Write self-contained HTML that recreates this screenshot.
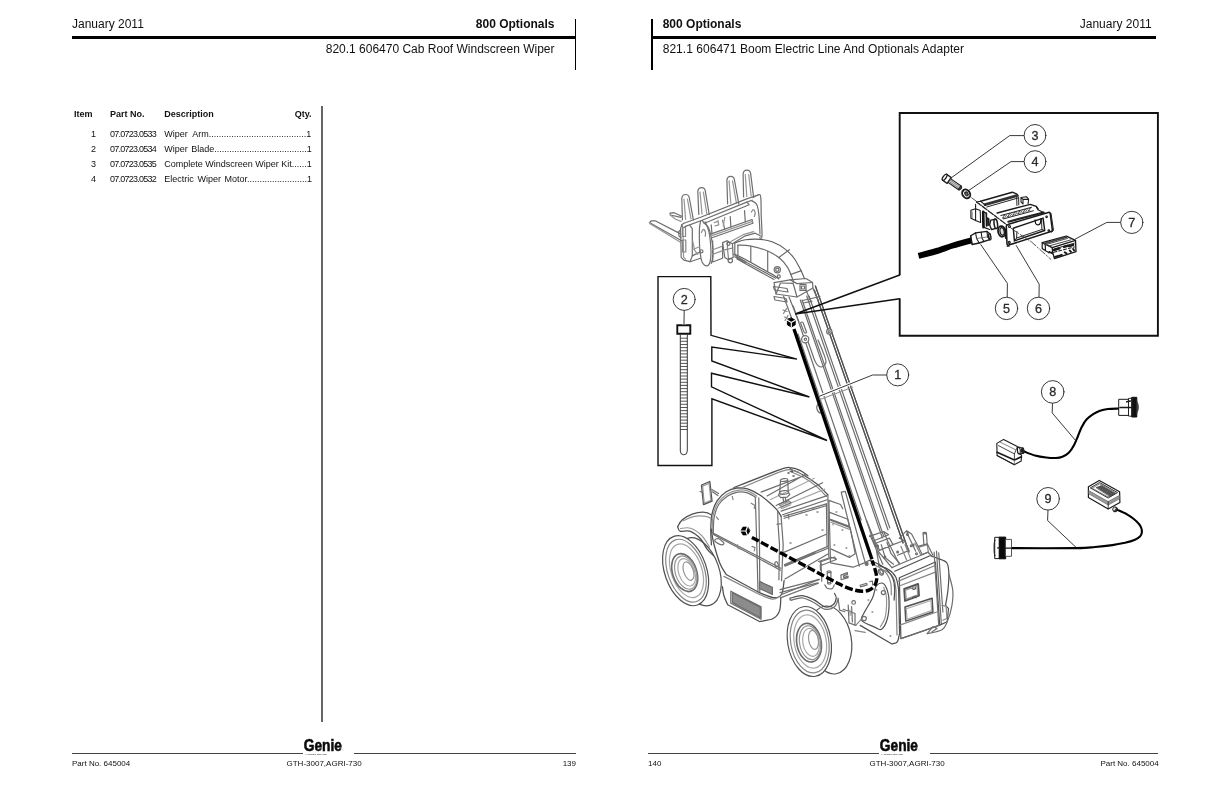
<!DOCTYPE html>
<html lang="en">
<head>
<meta charset="utf-8">
<title>800 Optionals</title>
<style>
html,body{margin:0;padding:0;background:#fff;}
body{width:1224px;height:792px;position:relative;overflow:hidden;font-family:"Liberation Sans",sans-serif;color:#111;}
.t{position:absolute;white-space:nowrap;line-height:1;transform-origin:0 0;}
.r{transform-origin:100% 0;}
.h12{font-size:12px;}
.b{font-weight:bold;}
.f8{font-size:8px;}
.th{font-size:9px;font-weight:bold;}
.td{font-size:9px;}
.pn{letter-spacing:-0.76px;}
.ln{position:absolute;background:#000;}
#wrap{position:absolute;left:0;top:0;width:1224px;height:792px;will-change:transform;transform:translateZ(0);}
#art{position:absolute;left:0;top:0;width:1224px;height:792px;}
</style>
</head>
<body>
<div id="wrap">
<!-- LEFT PAGE HEADER -->
<div class="ln" style="left:72px;top:36px;width:504px;height:3px"></div>
<div class="ln" style="left:574.7px;top:19px;width:1.6px;height:51px"></div>
<div class="t h12" id="jl" style="left:72px;top:18.3px">January 2011</div>
<div class="t h12 b r" id="ol" style="right:669.5px;top:18.2px">800 Optionals</div>
<div class="t h12 r" id="sl" style="right:669.5px;top:43px">820.1 606470 Cab Roof Windscreen Wiper</div>

<!-- TABLE -->
<div class="t th" style="left:74px;top:109.6px">Item</div>
<div class="t th" style="left:110px;top:109.6px">Part No.</div>
<div class="t th" style="left:164.3px;top:109.6px">Description</div>
<div class="t th r" style="right:912.5px;top:109.6px">Qty.</div>

<div class="t td r" style="right:1128px;top:129.6px">1</div>
<div class="t td r" style="right:1128px;top:144.6px">2</div>
<div class="t td r" style="right:1128px;top:159.6px">3</div>
<div class="t td r" style="right:1128px;top:174.6px">4</div>

<div class="t td pn" style="left:110px;top:129.6px">07.0723.0533</div>
<div class="t td pn" style="left:110px;top:144.6px">07.0723.0534</div>
<div class="t td pn" style="left:110px;top:159.6px">07.0723.0535</div>
<div class="t td pn" style="left:110px;top:174.6px">07.0723.0532</div>

<div class="t td" style="left:164.3px;top:129.6px">Wiper&nbsp; Arm.......................................1</div>
<div class="t td" style="left:164.3px;top:144.6px;word-spacing:-0.8px">Wiper&nbsp; Blade.....................................1</div>
<div class="t td" style="left:164.3px;top:159.6px">Complete Windscreen Wiper Kit......1</div>
<div class="t td" style="left:164.3px;top:174.6px;word-spacing:1.1px">Electric Wiper Motor........................1</div>

<div class="ln" style="left:320.9px;top:106.3px;width:2.1px;height:615.5px;background:#666"></div>

<!-- LEFT FOOTER -->
<div class="ln" style="left:72px;top:753px;width:230.5px;height:1px;background:#444"></div>
<div class="ln" style="left:354px;top:753px;width:222px;height:1px;background:#444"></div>
<div class="t f8" style="left:72px;top:759.9px">Part No. 645004</div>
<div class="t f8" style="left:286.5px;top:759.9px">GTH-3007,AGRI-730</div>
<div class="t f8 r" style="right:648px;top:759.9px">139</div>

<!-- RIGHT PAGE HEADER -->
<div class="ln" style="left:651px;top:36px;width:505px;height:3px"></div>
<div class="ln" style="left:650.8px;top:19px;width:2.4px;height:51px"></div>
<div class="t h12 b" style="left:662.7px;top:18.2px">800 Optionals</div>
<div class="t h12" style="left:662.7px;top:43px;letter-spacing:0.035px">821.1 606471 Boom Electric Line And Optionals Adapter</div>
<div class="t h12 r" style="right:72.4px;top:18.3px">January 2011</div>

<!-- RIGHT FOOTER -->
<div class="ln" style="left:648px;top:753px;width:230.5px;height:1px;background:#444"></div>
<div class="ln" style="left:930px;top:753px;width:228px;height:1px;background:#444"></div>
<div class="t f8" style="left:648px;top:759.9px">140</div>
<div class="t f8" style="left:869.5px;top:759.9px">GTH-3007,AGRI-730</div>
<div class="t f8 r" style="right:65.3px;top:759.9px">Part No. 645004</div>

<svg id="art" viewBox="0 0 1224 792" width="1224" height="792" fill="none" stroke="#222" stroke-width="0.8" stroke-linecap="round" stroke-linejoin="round">
<!--ART-->
<g stroke="#6e6e6e" stroke-width="1.2" fill="none">
<ellipse cx="698.9" cy="571.7" rx="20.299999999999997" ry="35.3" transform="rotate(-19 698.9 571.7)" fill="#fff" stroke-width="1.20" stroke="#505050"/>
<ellipse cx="685.6" cy="570.7" rx="20.9" ry="36.3" transform="rotate(-19 685.6 570.7)" fill="#fff" stroke-width="1.20" stroke="#505050"/>
<ellipse cx="686.0" cy="570.7" rx="18.299999999999997" ry="32.599999999999994" transform="rotate(-19 686.0 570.7)" stroke="#858585"/>
<ellipse cx="686.5" cy="570.7" rx="15.299999999999999" ry="27.9" transform="rotate(-19 686.5 570.7)" stroke="#a8a8a8"/>
<ellipse cx="684.7" cy="572.6" rx="12.0" ry="19.6" transform="rotate(-19 684.7 572.6)" stroke-width="1.65" stroke="#6a6a6a"/>
<ellipse cx="685.7" cy="572.6" rx="10.2" ry="17.200000000000003" transform="rotate(-19 685.7 572.6)" stroke="#959595"/>
<ellipse cx="686.7" cy="572.3000000000001" rx="8.0" ry="14.200000000000001" transform="rotate(-19 686.7 572.3000000000001)" stroke="#a8a8a8"/>
<ellipse cx="688.5" cy="571.1" rx="4.8" ry="9.6" transform="rotate(-19 688.5 571.1)" stroke="#959595"/>
<ellipse cx="830.3" cy="640.0" rx="21.0" ry="34.3" transform="rotate(-10 830.3 640.0)" fill="#fff" stroke-width="1.20" stroke="#505050"/>
<ellipse cx="809.3" cy="641.5" rx="21.6" ry="35.3" transform="rotate(-10 809.3 641.5)" fill="#fff" stroke-width="1.20" stroke="#505050"/>
<ellipse cx="809.6999999999999" cy="641.5" rx="19.0" ry="31.599999999999998" transform="rotate(-10 809.6999999999999 641.5)" stroke="#858585"/>
<ellipse cx="810.1999999999999" cy="641.5" rx="16.0" ry="26.9" transform="rotate(-10 810.1999999999999 641.5)" stroke="#a8a8a8"/>
<ellipse cx="809.0" cy="642.7" rx="12.2" ry="19.5" transform="rotate(-10 809.0 642.7)" stroke-width="1.65" stroke="#6a6a6a"/>
<ellipse cx="810.0" cy="642.7" rx="10.399999999999999" ry="17.1" transform="rotate(-10 810.0 642.7)" stroke="#959595"/>
<ellipse cx="811.0" cy="642.4000000000001" rx="8.2" ry="14.1" transform="rotate(-10 811.0 642.4000000000001)" stroke="#a8a8a8"/>
<ellipse cx="813.5" cy="639.9" rx="4.8" ry="9.6" transform="rotate(-10 813.5 639.9)" stroke="#959595"/>
<path d="M798.0,334 L861.2,520 M793.2,306 L875.8,548 M800.3,300 L882.4,538 M802.1,300 L883.6,536 M806.7,296 L888.0,530 M809.0,296 L889.8,528 M814.3,290 L903.1,543 M815.4,286 L909.0,552 " />
<path d="M815.4,286 L909.0,552 M814.3,290 L903.1,543" stroke-width="1.20" stroke="#505050"/>
<path d="M806.5,337.0 C807.2,339.2 809.4,345.7 811.0,350.0 C812.6,354.3 814.2,360.2 816.0,363.0 C817.8,365.8 819.8,367.2 821.5,367.0 C823.2,366.8 825.8,364.5 826.0,362.0 C826.2,359.5 824.3,355.7 823.0,352.0 C821.7,348.3 818.8,342.0 818.0,340.0" />
<circle cx="805.2" cy="339.3" r="3.6" fill="#fff"/>
<circle cx="805.4" cy="339.3" r="1.2" />
<circle cx="829.3" cy="331.5" r="2.6" fill="#fff"/>
<circle cx="829.3" cy="331.5" r="1.0" />
<path d="M800.5,323 l3.5,9 q1.2,2.2 2.6,0.3 l-3.4,-9.3 q-1.4,-2 -2.7,0 Z" />
<path d="M820,399.5 L852.5,387.2" stroke="#959595"/>
<path d="M819,404 q-3,1 -2,5 q1,4 4,4" />
<path d="M734.8,242.9 C736.6,242.4 741.2,240.4 745.5,239.8 C749.8,239.2 756.1,239.0 760.6,239.4 C765.1,239.8 768.7,240.5 772.7,242.1 C776.7,243.7 781.3,246.2 784.8,248.9 C788.3,251.6 791.4,254.7 793.9,258.0 C796.4,261.3 798.2,265.2 800.0,268.6 C801.8,272.0 803.8,276.9 804.5,278.5" stroke-width="1.12" stroke="#5c5c5c"/>
<path d="M737.9,245.2 C739.9,245.3 745.0,244.9 750.0,245.9 C755.0,246.9 763.2,249.0 768.2,251.2 C773.2,253.3 777.0,256.0 780.3,258.8 C783.6,261.6 785.9,264.6 787.9,267.9 C789.9,271.2 791.4,276.1 792.4,278.5 C793.4,280.9 793.6,281.7 793.9,282.3" />
<path d="M734.8,254.2 C736.6,255.1 741.2,257.2 745.5,259.5 C749.8,261.8 755.8,265.2 760.6,267.9 C765.4,270.6 771.2,273.6 774.2,275.5 C777.2,277.4 778.0,278.4 778.8,279.0" stroke-width="1.12" stroke="#5c5c5c"/>
<path d="M734.8,242.9 V254.2 M737.9,245.2 V255.6" />
<path d="M750.8,246.5 V262.4 M767.7,251.4 V271.2 M778.8,257.5 L789.4,249.7 M790.9,274.4 L801.5,270.6" />
<path d="M736.4,257 L775.8,278.2 M737,259 L774,279.5" />
<circle cx="777.3" cy="269.7" r="3.1" />
<circle cx="777.3" cy="269.7" r="1.6" />
<circle cx="778.8" cy="276.4" r="1.5" />
<path d="M774,282.6 L790,279.8 L806,278.5 L812.5,282.5 L813,288 L797,297 L776,294 Z" />
<path d="M776,294 L780.5,283 M797,297 L793,283 M790,279.8 L797,283.6 L812.5,282.5 M781,283 L793,283.3" />
<path d="M773.5,286.5 L787,288.5 L788,292 L774.5,290 Z M774,296.5 L786,298.5 L787,302 L775,300 Z" />
<path d="M800,284.5 h6 v6 h-6 Z M801.5,286 h3 v3 h-3 Z" />
<path d="M806,290 L811,302 M812.8,288 L818,300 M802.5,300.5 L820,296.5 M803.5,303 L812,301.2" />
<path d="M783.5,296 L793,322 M789,297 L799,322" />
<path d="M783,310 l4,1.5 m-3.5,2 l3,-5 M784.5,317 l4,1.5 m-3.5,2 l3,-5" stroke="#858585"/>
<path d="M682.4,219.8 L681.8,198.5 Q682.1,194.5 685.6,194.5 Q689.1,194.5 689.4,198.5 L693.4,219.8" />
<path d="M684.0,199.0 L685.6,219.3 M687.4,199.0 L691.0,218.8" stroke="#959595"/>
<path d="M698.8,214.5 L697.8,191.6 Q698.1,187.6 701.6,187.6 Q705.1,187.6 705.4,191.6 L709.2,214.5" />
<path d="M700.0,192.1 L702.0,214.0 M703.4,192.1 L706.8,213.5" stroke="#959595"/>
<path d="M727.6,203.8 L726.9,180.4 Q727.2,176.4 730.7,176.4 Q734.2,176.4 734.5,180.4 L738.8,203.8" />
<path d="M729.1,180.9 L730.8,203.3 M732.5,180.9 L736.4,202.8" stroke="#959595"/>
<path d="M743.6,197.0 L743.1,174.2 Q743.4,170.2 746.9,170.2 Q750.4,170.2 750.7,174.2 L753.6,197.0" />
<path d="M745.3,174.7 L746.8,196.5 M748.7,174.7 L751.2,196.0" stroke="#959595"/>
<path d="M683.9,223.3 L700.6,217.3 L746.1,199.1 L759.7,194.5" />
<path d="M685.5,226.4 L702.1,220.3 L746.8,202.1 L752.1,200.2" />
<path d="M702.1,220.3 L704.4,223.3 L749.1,204.7 L746.8,202.1" />
<path d="M683.9,223.3 L681.7,224.8 L682.9,227.9 L685.5,226.4" />
<path d="M681.7,224.8 L680.6,228.6 L681.2,257.4 L683.9,260.2 L690.0,261.7 L692.3,255.9 L692.3,228.6 L690.0,225.6" />
<path d="M682.9,227.9 L683.6,257.1 L685.5,259.2" stroke="#959595"/>
<path d="M680.2,230.2 L678.6,231.7 L679.1,236.2 L680.9,237.4" />
<path d="M682.5,227.5 h3 v9 h-3 Z M682.6,240 h3.2 v12 h-3.2 Z" stroke="#858585"/>
<path d="M700.6,221.1 C700.4,222.6 699.5,225.4 699.4,230.2 C699.3,234.9 699.4,244.5 699.8,249.8 C700.3,255.2 701.0,259.3 702.1,262.0 C703.3,264.6 705.4,265.8 706.7,265.8 C708.0,265.8 709.3,264.6 710.0,262.0 C710.7,259.3 711.1,254.9 710.9,249.8 C710.7,244.8 709.9,236.3 708.9,231.7 C708.0,227.0 705.8,223.5 705.2,221.8" />
<path d="M703.6,222.6 C704.5,223.6 707.5,225.1 708.9,228.6 C710.4,232.2 711.7,239.2 712.4,243.8 C713.1,248.3 713.2,252.6 713.0,255.9 C712.8,259.2 711.5,262.2 711.2,263.5" />
<path d="M701.4,232.4 C701.7,231.9 702.7,229.4 703.3,229.4 C704.0,229.4 705.2,231.3 705.5,232.4 C705.8,233.6 705.2,235.6 705.2,236.2" stroke="#858585"/>
<circle cx="701.3636363636364" cy="251.36363636363637" r="1.6" />
<path d="M752.9,197.6 C754.0,197.1 758.4,194.2 759.7,194.5 C761.0,194.9 760.7,196.4 760.9,199.8 C761.2,203.3 761.0,208.9 761.2,215.0 C761.4,221.1 762.2,232.4 762.0,236.2 C761.7,240.0 760.1,237.5 759.7,237.7" />
<path d="M751.4,200.6 C752.2,201.2 755.4,202.0 756.7,204.4 C757.9,206.8 758.4,210.1 758.9,215.0 C759.5,219.9 759.8,230.8 760.0,233.9" />
<path d="M751.4,212.0 C751.7,211.6 752.7,209.6 753.3,209.7 C754.0,209.8 755.0,211.6 755.2,212.7 C755.3,213.9 754.5,215.9 754.4,216.5" stroke="#858585"/>
<path d="M711.2,233.9 L752.1,219.5 L752.9,223.3 L712.0,237.7" />
<path d="M711.2,235.9 L752.4,221.4" stroke="#959595"/>
<path d="M711.2,224.8 L712.0,233.9M722.6,220.3 L724.8,229.4M730.2,216.5 L730.9,227.1M744.5,210.5 L745.3,221.8" />
<path d="M724.8,217.3 L723.3,225.6M718.0,220.3 L718.8,224.8M714.2,222.6 L718.0,221.4 L718.8,224.8 L715.0,225.9" stroke="#959595"/>
<path d="M712.7,240.8 L712.7,262.0 L722.6,258.2 L722.6,243.8" />
<path d="M712.7,249.8 L722.6,246.1M712.7,254.4 L722.6,250.6" stroke="#959595"/>
<path d="M692.3,255.9 L699.8,252.1M690.0,261.7 L700.6,258.2" />
<path d="M692.3,249.8 L699.4,246.8M692.7,240.8 L694.5,249.8 L697.6,254.4" stroke="#959595"/>
<path d="M681.7,240.8 L649.4,222.6 L651.4,220.8 L655.2,220.8 L680.6,233.9" />
<path d="M649.4,222.6 L650.0,223.8 L680.9,242.6" stroke="#959595"/>
<path d="M680.9,217.3 L670.3,215.0 L670.0,213.2 L674.1,212.7 L681.7,216.2" />
<path d="M670.3,215.0 L675.6,219.2 L681.2,221.4" stroke="#959595"/>
<path d="M722.6,242.6 L727.1,240.8 L732.4,243.8 L733.2,257.4 L728.6,259.7 L724.8,257.4 L723.0,245.3 Z" />
<path d="M727.1,240.8 L727.6,249.8 L728.6,259.7M724.8,249.8 L732.7,248.0" stroke="#858585"/>
<circle cx="730.3030303030303" cy="260.45454545454544" r="2.2" />
<circle cx="728.4848484848485" cy="243.7878787878788" r="1.5" />
<path d="M732.4,243.8 L744.5,236.2 L755.2,233.2 L761.2,236.2" />
<path d="M730.9,241.5 L743.0,234.7 L753.6,231.7" stroke="#959595"/>
<path d="M733.9,254.4 L740.0,258.2 L746.1,262.0M734.7,256.7 L744.5,262.7" />
<path d="M701.5,485.0 L709.8,481.5 L712.0,501.2 L703.5,504.5 Z" stroke-linejoin="round" stroke-width="1.35" stroke="#505050"/>
<path d="M702.6,486.1 L709.1,483.2 L710.9,500.3 L704.2,503.2 Z" stroke="#959595"/>
<path d="M711.8,489.5 L718.6,493.6M712.3,491.8 L717.9,495.6M700.2,491.5 L702.0,492.1" />
<path d="M711.4,544.8 C711.3,542.1 710.6,533.5 710.8,528.2 C710.9,522.9 711.2,517.6 712.3,513.0 C713.3,508.5 714.8,504.4 717.1,500.9 C719.4,497.4 722.9,494.0 726.2,491.8 C729.5,489.7 733.3,488.5 736.8,488.0 C740.4,487.5 743.6,487.7 747.4,488.8 C751.2,489.9 755.8,492.4 759.5,494.8 C763.3,497.2 767.1,500.5 770.2,503.2 C773.2,505.8 775.9,508.6 777.7,510.8 C779.5,513.0 780.5,515.4 781.1,516.4" stroke-width="1.27" stroke="#505050"/>
<path d="M713.3,532.7 C713.5,530.2 713.2,522.2 714.1,517.6 C715.0,512.9 716.4,508.3 718.6,504.7 C720.9,501.1 724.6,498.2 727.7,496.1 C730.9,494.0 734.3,492.7 737.6,492.1 C740.9,491.6 744.4,492.0 747.4,492.9 C750.5,493.8 754.4,496.7 755.8,497.4" />
<path d="M712.3,531.2 C712.4,528.7 712.1,520.7 713.0,516.1 C713.9,511.4 715.4,506.8 717.7,503.2 C720.1,499.5 723.7,496.4 727.0,494.2 C730.2,492.1 733.9,490.9 737.3,490.3 C740.7,489.7 744.2,489.9 747.4,490.9 C750.7,491.9 755.3,495.2 756.8,496.1" stroke="#959595"/>
<path d="M733.8,487.6 C741.6,484.5 771.2,472.7 780.8,469.4 C790.4,466.1 788.1,467.7 791.4,467.9 C794.6,468.1 797.7,469.3 800.5,470.6 C803.2,471.9 806.8,475.0 808.0,475.9 M790.0,469.1 C792.3,470.1 799.1,472.6 803.6,475.2 C808.2,477.7 813.2,481.0 817.3,484.2 C821.3,487.5 826.1,493.1 827.9,494.8" stroke-width="1.27" stroke="#505050"/>
<path d="M739.8,488.5 C746.8,485.6 772.9,474.4 781.5,471.4 C790.1,468.3 788.5,469.8 791.4,470.0 C794.3,470.2 797.7,472.0 798.9,472.4 M790.0,471.4 C792.1,472.3 798.5,474.7 802.9,477.1 C807.2,479.6 812.1,482.9 816.1,486.1 C820.0,489.3 824.6,494.6 826.4,496.4" stroke="#858585"/>
<path d="M761.1,492.1 L806.5,474.7M767.1,495.9 L805.2,474.4M776.2,505.5 L822.6,482.7M781.1,511.1 L827.1,495.6M782.6,514.8 L827.1,499.7" />
<path d="M770.2,499.7 L814.2,478.2M778.0,508.2 L824.8,489.1" stroke="#a8a8a8"/>
<path d="M788,473 l1,0 M791.5,471.5 l1,0 M793,476 l1,0" stroke-width="1.50" stroke="#505050"/>
<path d="M780.5,480.5 L779.7,492.6 L778.5,495.2 L780.8,497.6 L787.1,497.1 L789.8,494.5 L788.3,492.1 L787.7,480.0" />
<ellipse cx="784.0909090909091" cy="480.0" rx="3.7" ry="1.4" transform="rotate(-8 784.0909090909091 480.0)" />
<ellipse cx="784.0909090909091" cy="492.42424242424244" rx="4.5" ry="1.8" transform="rotate(-8 784.0909090909091 492.42424242424244)" />
<path d="M783.0,497.9 L783.8,503.2M785.3,497.6 L786.2,502.9M778.9,504.2 L788.3,500.6 L791.1,502.7 L781.7,506.7 Z" />
<path d="M780.5,505.2 L789.1,501.7M780.0,507.3 L782.0,508.5 L790.6,504.8" stroke="#959595"/>
<path d="M781.1,516.4 L783.2,544.8 L781.5,580.6M778.0,523.6 L779.5,544.8 L778.9,579.8" />
<path d="M777.7,510.8 L778.0,523.6" />
<path d="M777.0,524.4 L781.5,523.6M788.3,514.5 L788.9,518.8" stroke="#858585"/>
<path d="M755.3,497.3 L756.8,544.8 L758.0,591.2M758.8,497.9 L759.5,544.8 L759.8,592.0" />
<path d="M712.6,532.7 L755.0,554.7 L780.8,568.3M713.3,534.5 L755.0,556.5 L780.5,570.2" />
<path d="M714.8,540.0 C715.2,539.4 717.1,538.3 718.6,538.8 C720.2,539.3 723.4,542.0 723.9,543.0 C724.4,544.0 722.9,544.9 721.7,544.8 C720.4,544.8 717.5,543.4 716.4,542.6 C715.2,541.8 714.5,540.6 714.8,540.0 Z" stroke="#6a6a6a"/>
<path d="M732.3,496.4 L733.0,499.7M751.2,503.2 L755.0,505.5 L754.2,508.5M716.4,516.8 L718.3,519.4M737.6,544.8 L738.3,548.6 L740.6,548.6M752.0,546.4 L755.0,547.6 L754.2,550.9" stroke="#858585"/>
<ellipse cx="776.5151515151515" cy="564.2424242424242" rx="1.6" ry="2.6" transform="rotate(-15 776.5151515151515 564.2424242424242)" />
<path d="M677.7,526.7 C678.5,525.5 679.7,522.0 682.3,519.8 C684.8,517.7 689.1,515.1 692.9,513.8 C696.7,512.5 701.9,512.1 705.0,512.3 C708.1,512.4 710.3,514.4 711.4,514.8" stroke-width="1.27" stroke="#505050"/>
<path d="M677.7,526.7 C678.1,527.4 678.0,530.5 680.0,531.2 C682.0,532.0 686.4,529.9 689.8,531.2 C693.3,532.5 697.6,535.8 700.5,538.8 C703.4,541.8 705.1,546.6 707.3,549.4 C709.4,552.2 712.3,554.4 713.3,555.5" stroke-width="1.27" stroke="#505050"/>
<path d="M683.0,520.9 C684.9,520.2 690.6,517.1 694.4,516.4 C698.2,515.6 703.0,516.0 705.8,516.4 C708.5,516.7 710.2,518.0 711.1,518.3" stroke="#959595"/>
<path d="M680.5,528.5 C682.1,528.4 687.0,527.0 690.6,528.2 C694.2,529.4 698.8,532.6 702.0,535.8 C705.1,538.9 708.3,545.2 709.5,547.1" stroke="#959595"/>
<path d="M783.8,516.4 L826.4,503.9M784.1,518.3 L826.8,505.5M783.8,552.4 L826.4,534.2M784.5,564.5 L827.9,546.4M785.0,566.1 L827.9,548.2" />
<path d="M827.9,495.6 L828.8,557.0M826.4,503.9 L827.0,546.4" />
<path d="M801,512 l1,0 M806,515 l1,0 M813,508 l1,0 M817,512 l1,0 M822,530 l1,0 M790,543 l1,0" stroke-width="1.50" stroke="#858585"/>
<path d="M711.4,529.1 C711.6,530.6 711.9,534.6 712.6,538.2 C713.3,541.7 714.3,546.0 715.6,550.3 C716.9,554.6 718.4,559.9 720.2,563.9 C721.9,568.0 725.2,572.8 726.2,574.5 M726.2,574.5 L759.5,592.7 M759.5,592.7 C761.8,593.5 769.5,597.3 773.2,597.6 C776.8,597.9 779.7,597.4 781.5,594.5 C783.3,591.7 783.7,582.9 784.1,580.6" stroke-width="1.27" stroke="#505050"/>
<path d="M723.9,576.4 L759.5,594.5 M759.5,594.5 C761.7,595.3 769.0,598.8 772.4,599.1 C775.8,599.4 778.7,596.9 780.0,596.5" stroke="#858585"/>
<path d="M722.4,586.7 C722.7,588.2 723.1,592.7 723.9,595.8 C724.8,598.8 727.1,603.3 727.7,604.8 M727.7,604.8 L759.5,621.5 M759.5,621.5 C761.8,621.0 769.8,620.3 773.2,618.5 C776.5,616.7 778.3,614.4 779.5,610.9 C780.8,607.4 780.6,599.8 780.8,597.6" stroke-width="1.27" stroke="#505050"/>
<path d="M732.3,592.7 L760.3,607.1 L760.3,617.7 L732.3,602.6 Z" fill="#8c8c8c" stroke="#6a6a6a"/>
<path d="M730.8,591.2 L761.1,606.7 L761.1,619.2 L730.8,603.3 Z" />
<path d="M759.5,581.4 L772.4,587.4 L772.4,594.5 L759.5,588.5 Z" fill="#8c8c8c" stroke="#6a6a6a"/>
<path d="M784.5,565.5 L815.0,552.6M785.0,579.1 L827.9,553.9M782.3,594.2 L819.2,579.4M781.1,597.6 L818.4,583.2" />
<path d="M878.7,565.6 C880.3,566.3 885.3,567.4 888.1,569.3 C890.9,571.1 893.9,573.4 895.6,576.7 C897.4,579.9 898.1,586.9 898.6,589.0 M898.6,589.0 L899.6,633.3 M899.6,633.3 C899.2,634.7 898.6,640.1 897.3,641.8 C896.0,643.6 892.8,643.6 891.9,644.0 M891.9,644.0 L860.2,625.4" stroke-width="1.27" stroke="#505050"/>
<path d="M881.2,569.3 C882.6,569.9 887.2,571.1 889.4,572.9 C891.6,574.7 893.2,577.0 894.3,579.9 C895.4,582.9 895.7,588.8 896.0,590.6 M896.0,590.6 L897.0,634.9" stroke="#858585"/>
<path d="M882.8,583.2 C884.7,584.0 886.4,587.5 887.4,590.6 C888.5,593.8 889.1,597.4 889.1,602.1 C889.1,606.8 888.7,614.0 887.4,618.5 C886.2,623.0 883.7,627.8 881.5,629.2 C879.4,630.6 877.9,628.5 874.6,627.1 C871.3,625.6 863.5,623.0 861.8,620.5 C860.1,618.0 862.6,616.1 864.4,612.3 C866.3,608.5 870.7,601.9 872.7,597.5 C874.6,593.1 874.6,588.4 876.3,586.0 C878.0,583.6 881.0,582.5 882.8,583.2 Z" stroke-width="1.20" stroke="#505050"/>
<path d="M883.7,587.3 C884.1,589.0 886.2,592.2 886.5,597.2 C886.7,602.1 886.3,612.0 885.3,616.9 C884.3,621.8 881.2,625.1 880.4,626.7" stroke="#959595"/>
<circle cx="883.3333333333334" cy="592.5779967159277" r="2.0" />
<circle cx="864.1215106732349" cy="618.5221674876848" r="2.2" />
<path d="M868,600 l0.8,0 M872,612 l0.8,0 M890,636 l0.8,0 M876,590 l0.8,0" stroke-width="1.35" stroke="#858585"/>
<path d="M894.7,571.2 L930.5,555.5 L938.7,558.8M899.3,577.8 L935.4,562.0 L939.7,625.1 L900.9,638.6 Z" stroke-width="1.20" stroke="#505050"/>
<path d="M898.6,581.1 L935.7,565.3M899.3,586.0 L936.0,571.9M899.9,625.1 L936.7,612.0" stroke="#858585"/>
<path d="M904.2,589.0 L918.1,584.0 L919.0,595.5 L905.0,600.8 Z" stroke-width="1.95" stroke="#555"/>
<path d="M905.5,590.3 L917.0,586.0 L917.7,594.7 L906.2,599.1 Z" stroke="#959595"/>
<path d="M912.2,588.5 a1.6,1 0 1 0 3.2,-0.8 M912.8,598.5 a1.6,1 0 1 1 3.2,-0.8" stroke="#555" stroke-width="1.35"/>
<path d="M905.0,607.0 L932.1,598.2 L932.9,612.0 L905.8,621.1 Z" stroke-width="1.50" stroke="#505050"/>
<path d="M906.3,608.7 L931.0,600.5 L931.6,610.6 L907.0,619.2 Z" stroke="#a8a8a8"/>
<path d="M934.1,552.2 L938.7,625.1M936.5,551.2 L941.3,623.8M938.7,552.8 L942.9,612.0" />
<path d="M938.7,558.8 C940.0,559.5 945.2,560.4 946.9,563.0 C948.6,565.6 948.7,569.6 948.9,574.2 C949.0,578.8 948.4,585.4 947.9,590.6 C947.3,595.8 945.9,602.9 945.6,605.4 M945.6,605.4 L948.5,608.7 L947.2,621.8 L939.7,625.1" stroke-width="1.20" stroke="#505050"/>
<path d="M948.9,574.2 C949.5,576.9 952.3,585.3 952.8,590.6 C953.3,595.9 952.7,601.0 951.8,606.2 C950.9,611.4 948.9,617.9 947.2,621.8 C945.6,625.7 945.3,627.7 942.0,629.7 C938.6,631.7 929.6,633.0 927.2,633.6" />
<path d="M927.2,633.6 L932.9,626.7 L937.0,628.4 L932.1,631.7M900.9,638.6 L925.5,630.3 L939.7,625.1" />
<path d="M942.0,605.4 L946.1,606.2 L946.9,618.5 L942.8,620.2" stroke="#858585"/>
<path d="M923.1,533.5 L923.9,544.6M926.4,533.1 L927.2,545.0" />
<ellipse cx="924.7126436781609" cy="533.1362889983579" rx="1.7" ry="0.7" transform="rotate(0 924.7126436781609 533.1362889983579)" />
<path d="M866.4,520.0 L874.6,540.5 L879.2,565.6M870.0,535.1 L882.8,564.3" />
<path d="M869.4,536.4 L883.7,531.5 L888.6,534.8 L874.6,540.5M874.6,540.5 L878.7,552.0 L891.9,567.6M883.7,531.5 L887.8,541.3 L899.3,564.3" />
<path d="M876.3,543.0 L889.4,538.1 L893.0,544.6 L879.6,550.4 ZM881.2,544.6 L885.3,557.8 L893.5,564.3M886.9,542.2 L891.1,553.7 L899.3,563.0" />
<path d="M899.3,564.3 L927.2,552.8M891.9,567.6 L899.3,564.3M893.0,544.6 L904.2,540.5 L909.1,550.4 L897.6,555.3" />
<path d="M899.3,538.1 L906.7,530.7 L911.6,534.0 L918.1,546.3 L922.2,554.5M904.2,540.5 L899.3,538.1M906.7,530.7 L907.8,534.8 L915.7,551.2" />
<path d="M900.9,546.3 L906.7,560.2M905.0,544.6 L910.8,559.1M914.9,543.0 L920.9,555.3M919.0,547.1 L927.2,544.6 L928.5,552.8" stroke="#858585"/>
<path d="M922.2,554.5 L928.0,552.0 L932.1,556.9M918.1,546.3 L927.2,543.8 L932.9,555.3" />
<circle cx="877.5862068965517" cy="545.944170771757" r="0.9" stroke="#6a6a6a"/>
<circle cx="884.8111658456486" cy="556.9458128078818" r="0.9" stroke="#6a6a6a"/>
<circle cx="897.6190476190476" cy="552.0197044334975" r="0.9" stroke="#6a6a6a"/>
<circle cx="907.471264367816" cy="534.4499178981938" r="0.9" stroke="#6a6a6a"/>
<circle cx="911.247947454844" cy="545.7799671592775" r="0.9" stroke="#6a6a6a"/>
<circle cx="913.2183908045977" cy="544.9589490968801" r="0.9" stroke="#6a6a6a"/>
<circle cx="916.5024630541872" cy="553.6617405582923" r="0.9" stroke="#6a6a6a"/>
<path d="M828.9,500.4 L830.5,562.0M828.9,500.4 L840.5,504.5 L842.8,508.8M829.7,512.4 L847.8,519.3 L849.4,526.2 L830.5,519.3M830.5,520.2 L850.2,527.8 L855.2,553.7 L849.4,557.4 L831.3,549.1" />
<path d="M831.0,522.2 L849.4,529.4M833.0,522.9 L833.0,525.0" stroke="#959595"/>
<path d="M841.2,492.2 L859.3,566.1M845.3,491.3 L865.0,562.0M841.2,492.2 L845.3,491.3" />
<path d="M836,512 l0.8,0 M842,530 l0.8,0 M846,548 l0.8,0 M834,545 l0.8,0 M849,556 l0.8,0" stroke-width="1.35" stroke="#858585"/>
<path d="M819.9,562.0 L834.6,557.0 L836.3,559.5 L821.5,565.2 ZM820.2,565.2 L820.5,570.2M830.5,562.9 L853.0,567.2 L864.5,562.9 L869.4,560.3" />
<path d="M869.4,560.3 C871.0,561.0 876.0,562.8 879.0,564.4 C881.9,566.1 884.8,567.8 887.2,570.2 C889.5,572.5 891.7,575.4 892.9,578.4 C894.2,581.4 894.4,584.6 894.6,588.2 C894.8,591.8 894.2,598.1 894.1,600.0" stroke-width="1.27" stroke="#505050"/>
<path d="M871.1,563.6 C872.5,564.3 877.1,565.9 879.8,567.7 C882.5,569.5 885.3,571.7 887.2,574.3 C889.0,576.9 890.1,579.9 890.8,583.3 C891.5,586.7 891.2,592.9 891.3,594.8" stroke="#858585"/>
<circle cx="866.6502463054187" cy="563.9244663382594" r="1.5" />
<circle cx="866.6502463054187" cy="563.9244663382594" r="0.7" />
<ellipse cx="880.935960591133" cy="572.1346469622332" rx="2.2" ry="3.2" transform="rotate(-30 880.935960591133 572.1346469622332)" />
<ellipse cx="881.5927750410509" cy="571.8062397372743" rx="1.4" ry="2.4" transform="rotate(-30 881.5927750410509 571.8062397372743)" />
<ellipse cx="829.047619047619" cy="571.8062397372743" rx="1.9" ry="0.9" transform="rotate(0 829.047619047619 571.8062397372743)" />
<path d="M827.2,572.1 L827.7,583.3M831.0,572.1 L830.7,583.3" />
<ellipse cx="829.2118226600985" cy="583.3004926108374" rx="1.7" ry="0.8" transform="rotate(0 829.2118226600985 583.3004926108374)" />
<path d="M824.8,584.9 C825.2,585.5 826.0,587.6 827.2,588.2 C828.5,588.8 831.0,589.1 832.2,588.6 C833.3,588.0 833.9,585.5 834.3,584.9" />
<path d="M847.4,572.6 L840.9,575.1 L841.2,579.7 L848.1,577.6 L848.1,576.1 L843.7,577.6 L843.5,575.9 L847.4,574.4 Z" />
<path d="M860.1,585.3 L866.7,583.3 L867.1,584.9 L860.6,586.9 ZM869.9,581.7 L872.4,581.0 L872.7,584.9" />
<path d="M780.0,589.7 L819.2,579.4M780.0,592.7 L817.8,582.8" />
<path d="M818.4,561.5 L820.9,560.7 L821.8,581.1M820.9,560.7 L831.1,557.3 L836.2,559.0" />
<path d="M790.2,598.2 C792.2,597.8 798.2,595.3 802.2,595.6 C806.1,595.9 810.4,598.0 814.1,599.9 C817.8,601.7 821.2,605.8 824.3,606.7 C827.4,607.6 830.8,606.4 832.8,605.0 C834.8,603.6 836.0,600.1 836.2,598.2 C836.5,596.2 834.8,594.2 834.5,593.4" stroke-width="1.27" stroke="#505050"/>
<path d="M790.9,600.2 C792.8,599.8 798.4,597.5 802.2,597.8 C805.9,598.2 809.7,600.4 813.4,602.3 C817.2,604.1 821.2,608.3 824.7,609.1 C828.1,609.9 831.9,608.7 834.2,607.0 C836.5,605.4 837.6,600.4 838.3,599.0" />
<path d="M790.2,598.2 C790.2,598.4 789.8,599.2 789.9,599.5 C790.0,599.9 790.7,600.1 790.9,600.2" />
<path d="M838.0,598.2 L839.7,610.1 L844.8,611.8M848.2,605.0 L849.0,622.9M851.6,606.7 L852.4,622.0M843.1,609.3 L855.0,613.5 L855.0,625.4M849.0,622.9 L855.8,625.4" />
<circle cx="853.6321799897732" cy="602.4390659621613" r="1.8" />
<path d="M849.9,610.1 L850.2,615.2" stroke="#959595"/>
<path d="M855.8,625.4 L861.8,618.6M855.0,630.6 L865.2,632.3" stroke="#858585"/>
</g>
<path d="M899.7,275 L899.7,113 L1157.9,113 L1157.9,335.8 L899.7,335.8 L899.7,298.8" stroke="#111" stroke-width="1.9" stroke-linejoin="miter" stroke-linecap="butt"/>
<path d="M899.7,275 L795.2,314 L899.7,298.8" stroke="#111" stroke-width="1.5" stroke-linejoin="miter"/>
<path d="M711.0,335.3 L710.8,276.6 L658,276.6 L658,465.5 L711.9,465.5 L711.9,398.8 L827,440.5 L711.5,386.8 L711.5,373.2 L809.4,397 L711.8,361 L711.8,347 L797,359.1 Z" stroke="#111" stroke-width="1.4" stroke-linejoin="miter"/>
<g stroke="#222">
<path d="M677.3,325.3 H690.3 V333.7 H677.3 Z" stroke-width="1.9" stroke-linejoin="miter" stroke="#111"/>
<path d="M680.3,335 V451 A3.5,3.8 0 0 0 687.3,451 V335" stroke-width="0.9"/>
<path d="M680.5,338.2 H687.2 M680.5,341.3 H687.2 M680.5,344.5 H687.2 M680.5,347.6 H687.2 M680.5,350.8 H687.2 M680.5,353.9 H687.2 M680.5,357.1 H687.2 M680.5,360.2 H687.2 M680.5,363.4 H687.2 M680.5,366.5 H687.2 M680.5,369.7 H687.2 M680.5,372.8 H687.2 M680.5,376.0 H687.2 M680.5,379.1 H687.2 M680.5,382.3 H687.2 M680.5,385.4 H687.2 M680.5,388.6 H687.2 M680.5,391.7 H687.2 M680.5,394.9 H687.2 M680.5,398.0 H687.2 M680.5,401.2 H687.2 M680.5,404.3 H687.2 M680.5,407.5 H687.2 M680.5,410.6 H687.2 M680.5,413.8 H687.2 M680.5,416.9 H687.2 M680.5,420.1 H687.2 M680.5,423.2 H687.2 M680.5,426.4 H687.2 M680.5,429.5 H687.2 " stroke-width="0.9" stroke="#444"/>
</g>
<path d="M794,329 L871.9,559.3" stroke="#000" stroke-width="3.4" stroke-linecap="butt"/>
<path d="M751.9,537.4 C756.4,539.8 771.1,547.7 778.7,551.8 C786.3,555.9 791.3,558.5 797.6,561.9 C803.9,565.3 810.2,568.6 816.5,572.0 C822.8,575.4 830.7,579.6 835.4,582.0 C840.1,584.4 841.4,585.3 844.5,586.6 C847.6,587.9 851.2,589.2 854.2,590.0 C857.2,590.8 859.9,591.1 862.2,591.2 C864.5,591.3 866.3,591.0 868.0,590.5 C869.7,590.0 871.0,589.4 872.2,588.3 C873.5,587.2 874.8,585.5 875.5,584.0 C876.2,582.5 876.6,580.9 876.7,579.2 C876.8,577.5 876.5,575.7 876.2,574.0 C875.9,572.3 875.4,570.7 874.9,568.9 C874.4,567.1 873.5,564.4 873.0,563.0 C872.5,561.6 872.3,560.9 872.2,560.5" stroke="#000" stroke-width="3.4" stroke-dasharray="8 2.55" stroke-linecap="butt"/>
<path d="M791.3,318.0 L795.2,320.2 L795.2,324.8 L791.3,327.0 L787.4,324.8 L787.4,320.2 Z" fill="#000" stroke="#000" stroke-width="1" stroke-linejoin="miter"/>
<path d="M791.3,322.5 L791.3,327.0 M791.3,322.5 L795.2,320.2 M791.3,322.5 L787.4,320.2" stroke="#fff" stroke-width="1.1"/>
<path d="M749.8,531.0 L747.5,534.9 L743.0,534.9 L740.8,531.0 L743.0,527.1 L747.5,527.1 Z" fill="#000" stroke="#000" stroke-width="0.8" stroke-linejoin="miter"/>
<path d="M745.9,531 L740.1999999999999,531 M745.9,531 L747.5,535.5 M745.9,531 L747.5,526.5" stroke="#fff" stroke-width="1.15"/>
<path d="M886.6,375.0 L872.6,375.0 L819.2,396.3" stroke="#fff" stroke-width="3.2" stroke-linecap="butt"/>
<g stroke="#222" stroke-width="0.9">
<path d="M886.6,375.0 L872.6,375.0 L819.2,396.3" />
<circle cx="897.7" cy="374.9" r="11.0" fill="#fff"/>
</g>
<text x="897.7" y="379.4" text-anchor="middle" font-family="Liberation Sans, sans-serif" font-size="12.6" fill="#2a2a2a" stroke="#2a2a2a" stroke-width="0.3">1</text>
<path d="M684.2,310.2 L684.0,324.6" stroke="#fff" stroke-width="3.2" stroke-linecap="butt"/>
<g stroke="#222" stroke-width="0.9">
<path d="M684.2,310.2 L684.0,324.6" />
<circle cx="684.2" cy="299.4" r="11.0" fill="#fff"/>
</g>
<text x="684.2" y="303.9" text-anchor="middle" font-family="Liberation Sans, sans-serif" font-size="12.6" fill="#2a2a2a" stroke="#2a2a2a" stroke-width="0.3">2</text>
<path d="M1024.2,135.6 L1009.7,135.6 L950.6,178.3" stroke="#fff" stroke-width="3.2" stroke-linecap="butt"/>
<g stroke="#222" stroke-width="0.9">
<path d="M1024.2,135.6 L1009.7,135.6 L950.6,178.3" />
<circle cx="1035" cy="135.4" r="10.9" fill="#fff"/>
</g>
<text x="1035" y="139.9" text-anchor="middle" font-family="Liberation Sans, sans-serif" font-size="12.6" fill="#2a2a2a" stroke="#2a2a2a" stroke-width="0.3">3</text>
<path d="M1024.2,161.6 L1011.0,161.6 L968.8,190.4" stroke="#fff" stroke-width="3.2" stroke-linecap="butt"/>
<g stroke="#222" stroke-width="0.9">
<path d="M1024.2,161.6 L1011.0,161.6 L968.8,190.4" />
<circle cx="1035" cy="161.6" r="10.9" fill="#fff"/>
</g>
<text x="1035" y="166.1" text-anchor="middle" font-family="Liberation Sans, sans-serif" font-size="12.6" fill="#2a2a2a" stroke="#2a2a2a" stroke-width="0.3">4</text>
<path d="M1007.2,297.6 L1007.4,283.4 L980.8,244.6" stroke="#fff" stroke-width="3.2" stroke-linecap="butt"/>
<g stroke="#222" stroke-width="0.9">
<path d="M1007.2,297.6 L1007.4,283.4 L980.8,244.6" />
<circle cx="1006.5" cy="308.40000000000003" r="11.2" fill="#fff"/>
</g>
<text x="1006.5" y="312.9" text-anchor="middle" font-family="Liberation Sans, sans-serif" font-size="12.6" fill="#2a2a2a" stroke="#2a2a2a" stroke-width="0.3">5</text>
<path d="M1039.0,297.6 L1039.2,284.2 L1016.3,245.6" stroke="#fff" stroke-width="3.2" stroke-linecap="butt"/>
<g stroke="#222" stroke-width="0.9">
<path d="M1039.0,297.6 L1039.2,284.2 L1016.3,245.6" />
<circle cx="1038.5" cy="308.40000000000003" r="11.2" fill="#fff"/>
</g>
<text x="1038.5" y="312.9" text-anchor="middle" font-family="Liberation Sans, sans-serif" font-size="12.6" fill="#2a2a2a" stroke="#2a2a2a" stroke-width="0.3">6</text>
<path d="M1120.8,222.4 L1106.8,222.4 L1075.5,238.9" stroke="#fff" stroke-width="3.2" stroke-linecap="butt"/>
<g stroke="#222" stroke-width="0.9">
<path d="M1120.8,222.4 L1106.8,222.4 L1075.5,238.9" />
<circle cx="1131.8" cy="222.4" r="11.1" fill="#fff"/>
</g>
<text x="1131.8" y="226.9" text-anchor="middle" font-family="Liberation Sans, sans-serif" font-size="12.6" fill="#2a2a2a" stroke="#2a2a2a" stroke-width="0.3">7</text>
<path d="M1052.5,403.1 L1052.2,412.9 L1074.9,439.7" stroke="#fff" stroke-width="3.2" stroke-linecap="butt"/>
<g stroke="#222" stroke-width="0.9">
<path d="M1052.5,403.1 L1052.2,412.9 L1074.9,439.7" />
<circle cx="1052.7" cy="391.90000000000003" r="11.3" fill="#fff"/>
</g>
<text x="1052.7" y="396.4" text-anchor="middle" font-family="Liberation Sans, sans-serif" font-size="12.6" fill="#2a2a2a" stroke="#2a2a2a" stroke-width="0.3">8</text>
<path d="M1048.0,510.0 L1047.6,520.5 L1076.3,547.6" stroke="#fff" stroke-width="3.2" stroke-linecap="butt"/>
<g stroke="#222" stroke-width="0.9">
<path d="M1048.0,510.0 L1047.6,520.5 L1076.3,547.6" />
<circle cx="1048.1" cy="498.8" r="11.3" fill="#fff"/>
</g>
<text x="1048.1" y="503.3" text-anchor="middle" font-family="Liberation Sans, sans-serif" font-size="12.6" fill="#2a2a2a" stroke="#2a2a2a" stroke-width="0.3">9</text>
<path d="M1024.1,451.6 C1025.9,452.2 1031.3,454.5 1035.0,455.5 C1038.7,456.5 1042.7,457.1 1046.2,457.5 C1049.7,457.9 1053.3,458.1 1056.0,458.0 C1058.7,457.9 1060.2,457.7 1062.4,456.8 C1064.6,455.9 1067.0,454.5 1069.0,452.5 C1071.0,450.5 1072.6,447.8 1074.1,445.0 C1075.6,442.2 1076.8,438.9 1078.0,436.0 C1079.2,433.1 1080.1,430.1 1081.5,427.4 C1082.9,424.6 1084.5,421.7 1086.5,419.5 C1088.5,417.3 1091.0,415.6 1093.2,414.1 C1095.5,412.7 1097.5,411.7 1100.0,410.8 C1102.5,409.9 1104.7,409.4 1107.9,409.0 C1111.1,408.6 1117.2,408.6 1119.0,408.5" stroke="#000" stroke-width="2.1"/>
<path d="M1010.9,548.1 C1021.7,548.1 1061.6,548.3 1075.6,548.1 C1089.6,547.9 1088.9,547.5 1095.0,547.0 C1101.1,546.5 1107.4,545.8 1112.4,545.1 C1117.4,544.4 1121.3,543.6 1125.0,542.8 C1128.7,541.9 1131.9,541.0 1134.4,540.0 C1136.9,539.0 1138.8,537.7 1140.0,536.5 C1141.2,535.3 1141.6,534.0 1141.8,532.6 C1142.0,531.2 1141.8,529.5 1141.3,528.0 C1140.8,526.5 1140.1,525.3 1138.8,523.8 C1137.5,522.2 1135.5,520.3 1133.5,518.7 C1131.5,517.1 1129.7,515.8 1127.0,514.3 C1124.3,512.8 1119.1,510.6 1117.5,509.9" stroke="#000" stroke-width="2.1"/>
<path d="M918.5,255.8 C921.2,255.1 929.2,253.2 935.0,251.5 C940.8,249.8 946.9,247.4 953.0,245.5 C959.1,243.6 968.4,241.2 971.5,240.3" stroke="#000" stroke-width="6" stroke-linecap="butt"/>
<g stroke="#1a1a1a" stroke-width="1.2" fill="none">
<g transform="rotate(34.9 947.4 179.2)">
<path d="M944.0,175.6 h5.6 v7.2 h-5.6 Z" fill="#fff" stroke-linejoin="round" stroke-width="1.3"/>
<ellipse cx="944.0" cy="179.2" rx="1.5" ry="3.6" transform="rotate(0 944.0 179.2)" fill="#fff" stroke-width="1.3"/>
<path d="M949.6,176.89999999999998 h13.4 v4.6 h-13.4 Z" fill="#c8c8c8" stroke-width="1.0"/>
<path d="M950.4,178.29999999999998 h11 M950.4,180.1 h11" stroke="#777" stroke-width="0.7"/>
<ellipse cx="963.0" cy="179.2" rx="1.0" ry="2.3" transform="rotate(0 963.0 179.2)" fill="#444" stroke-width="0.9"/>
</g>
<ellipse cx="966.2" cy="193.8" rx="3.7" ry="4.7" transform="rotate(-35 966.2 193.8)" fill="#fff" stroke-width="1.9"/>
<ellipse cx="966.5" cy="193.9" rx="1.5" ry="2.1" transform="rotate(-35 966.5 193.9)" stroke-width="1.1" fill="#888"/>
<path d="M980.6,201.3 L1012.3,192.2 L1016.9,194.1 L1018.0,195.6" stroke-width="1.44"/>
<path d="M985.1,204.7 L1016.9,195.6" stroke-width="2.88" stroke="#333"/>
<path d="M986.8,207.0 L1017.6,198.1" stroke-width="0.96"/>
<path d="M976.4,202.0 L980.6,201.3 L985.4,205.1" stroke-width="1.08"/>
<path d="M1016.7,197.3 L1016.9,205.4M1018.6,196.9 L1018.8,204.9" stroke-width="0.96"/>
<path d="M1020.9,197.5 L1026.4,196.7 L1028.6,199.2 L1028.1,203.6M1020.9,197.5 L1021.1,202.2 L1023.0,203.9M1023.0,199.4 L1028.6,199.2M1023.0,199.4 L1023.0,203.9M1020.9,197.5 L1023.0,199.4" stroke-width="1.08"/>
<path d="M997.2,213.0 L1030.3,204.4 L1036.2,206.4 L1038.1,208.9" stroke-width="1.44"/>
<path d="M1000.8,215.5 L1031.5,207.3" stroke-width="0.96"/>
<path d="M1003.4,218.9 L1033.4,210.8" stroke-width="0.96"/>
<path d="M1008.4,221.7 L1043.6,212.5" stroke-width="2.16" stroke="#222"/>
<path d="M1036.2,206.4 L1037.9,209.8 L1043.6,212.5" stroke-width="1.08"/>
<path d="M1002.7,218.0 l1.5,-2.3 M1003.6,215.5 l1.6,-0.4 M1002.5,218.0 l1.6,-0.4 M1005.2,217.3 l1.5,-2.3 M1007.8,216.6 l1.5,-2.3 M1008.7,214.1 l1.6,-0.4 M1007.6,216.6 l1.6,-0.4 M1010.4,215.9 l1.5,-2.3 M1012.9,215.2 l1.5,-2.3 M1013.8,212.7 l1.6,-0.4 M1012.7,215.2 l1.6,-0.4 M1015.5,214.5 l1.5,-2.3 M1018.0,213.8 l1.5,-2.3 M1018.9,211.3 l1.6,-0.4 M1017.8,213.8 l1.6,-0.4 M1020.6,213.1 l1.5,-2.3 M1023.1,212.4 l1.5,-2.3 M1024.0,209.9 l1.6,-0.4 M1022.9,212.4 l1.6,-0.4 M1025.7,211.7 l1.5,-2.3 M1028.3,211.0 l1.5,-2.3 M1029.2,208.5 l1.6,-0.4 M1028.1,211.0 l1.6,-0.4 " stroke-width="0.7" stroke="#222"/>
<path d="M976.4,202.0 L1006.7,224.8" stroke-width="1.08" stroke-dasharray="6 1.5"/>
<path d="M970.9,210.2 L975.6,208.7 L975.6,204.4M970.9,210.2 L970.9,218.3 L975.6,220.6 L980.6,222.5M975.6,208.7 L975.6,220.6M975.6,208.7 L980.2,210.6 L980.6,222.5" stroke-width="1.08"/>
<path d="M972.1,212.0 L972.1,217.7" stroke="#555" stroke-width="0.84"/>
<path d="M983.2,211.7 L983.5,227.1" stroke-width="2.64" stroke="#111"/>
<path d="M986.3,213.4 L986.6,225.9" stroke-width="1.68"/>
<path d="M983.5,227.1 L989.6,229.5M983.2,211.7 L986.6,213.4" stroke-width="1.20"/>
<path d="M987.0,217.7 L989.1,218.3 L989.2,225.7 L987.2,225.2 Z" fill="#222" stroke-width="0.72"/>
<path d="M990.8,220.2 C990.6,221.0 989.7,223.2 989.8,224.8 C989.9,226.3 991.2,228.7 991.5,229.5M990.8,220.2 L995.5,219.1M991.5,229.5 L996.4,228.4" stroke-width="1.32"/>
<ellipse cx="995.8" cy="223.8" rx="1.7" ry="4.7" transform="rotate(-8 995.8 223.8)" fill="#fff" stroke-width="1.56"/>
<ellipse cx="1001.7" cy="231.4" rx="3.6" ry="5.4" transform="rotate(-10 1001.7 231.4)" fill="#fff" stroke-width="1.80"/>
<ellipse cx="1002.1" cy="231.4" rx="2.1" ry="3.8" transform="rotate(-10 1002.1 231.4)" stroke-width="1.20" fill="#ddd"/>
<path d="M1005.2,229.5 L1005.9,238.0" stroke-width="1.92"/>
<path d="M1008.6,224.2 L1048.3,212.5 Q1049.9,212.0 1050.2,213.4 L1052.3,229.5 Q1052.6,231.1 1051.0,231.6 L1008.8,245.0 Q1007.1,245.6 1007.0,243.9 L1006.3,226.3 Q1006.3,224.9 1008.6,224.2 Z" fill="#fff" stroke-width="1.56"/>
<path d="M1013.3,228.2 L1043.1,218.1 L1044.7,230.5 L1014.4,240.9 Z" stroke-width="1.44"/>
<path d="M1016.9,231.4 L1016.6,238.0M1014.4,240.9 L1016.6,238.0 L1041.9,229.5 L1044.7,230.5M1041.9,229.5 L1041.5,219.1" stroke-width="0.96"/>
<path d="M1035.1,219.8 C1035.2,220.5 1035.3,223.0 1035.8,223.8 C1036.3,224.6 1037.4,224.9 1038.1,224.8 C1038.8,224.7 1039.8,224.3 1040.3,223.4 C1040.7,222.4 1040.7,219.6 1040.8,218.9" stroke-width="1.20"/>
<circle cx="1009.5" cy="226.5" r="1.0" stroke-width="1.08"/>
<circle cx="1009.3" cy="242.4" r="1.0" stroke-width="1.08"/>
<circle cx="1046.6" cy="216.8" r="0.8" stroke-width="1.08"/>
<circle cx="1048.8" cy="230.6" r="0.8" stroke-width="1.08"/>
<path d="M1051.0,213.4 L1053.5,230.3 L1051.6,232.3M1007.1,246.4 L1009.5,246.1" stroke-width="0.96"/>
<path d="M970.7,235.7 L975.6,232.9 L987.0,231.4 L990.4,234.2 L989.8,239.7 L979.2,243.0 L972.2,244.5 Z" fill="#fff" stroke-width="1.32"/>
<path d="M975.6,232.9 L976.6,238.5 L979.2,243.0M981.1,232.2 L982.0,238.0 L983.9,241.6M987.0,231.4 L987.5,236.9 L989.8,239.7M970.7,235.7 L971.2,240.9 L972.2,244.5" stroke-width="1.08"/>
<path d="M976.6,238.5 L987.5,236.9" stroke-width="0.84" stroke="#666"/>
<ellipse cx="989.8" cy="236.9" rx="1.2" ry="3.2" transform="rotate(-10 989.8 236.9)" stroke-width="1.08"/>
<path d="M1042.2,242.6 L1066.4,236.1 L1075.5,240.3 L1052.2,247.7 Z" fill="#fff" stroke-width="1.32"/>
<path d="M1042.2,242.6 L1042.2,248.4 L1045.9,250.9 L1048.8,252.6M1045.2,244.0 L1045.5,250.3" stroke-width="1.20"/>
<path d="M1052.2,247.7 L1052.7,252.3 L1054.4,258.5 L1076.0,251.7 L1075.5,240.3" stroke-width="1.32"/>
<path d="M1045.9,244.6 L1067.5,238.4M1048.8,246.0 L1070.9,239.9" stroke-width="0.96" stroke="#444"/>
<path d="M1044.2,243.6 L1066.4,237.2" stroke-width="1.92" stroke="#444"/>
<path d="M1054.4,248.9 L1074.3,243.2" stroke-width="0.96"/>
<path d="M1053.9,250.0 L1059.5,248.4M1064.1,246.9 L1067.5,245.9M1069.2,246.1 L1073.2,244.9" stroke-width="2.40"/>
<path d="M1053.9,252.3 L1074.3,246.9" stroke-width="1.08" stroke-dasharray="3 2"/>
<path d="M1055.0,256.8 L1061.8,254.8M1064.7,252.3 L1066.4,253.4M1069.8,250.6 L1070.9,251.7M1073.2,248.9 L1074.0,250.3" stroke-width="1.92"/>
<path d="M1048.8,252.6 L1052.7,252.3M1049.3,251.7 L1052.4,253.7" stroke-width="1.44"/>
<path d="M962.0,190.5 L977.3,202.0 L1014.2,230.5 L1031.3,241.8 L1048.3,257.0 L1051.0,259.5" stroke="#333" stroke-width="0.84" stroke-dasharray="7 2 1.2 2"/>
</g>
<g stroke="#1a1a1a" stroke-width="1.0" fill="none" stroke-linejoin="round">
<path d="M996.8,443.4 L1003.6,439.4 L1017.3,446.5 L1017.8,452.7 L1021.5,455.0 L1021.2,461.0 L1014.4,464.7 L997.1,455.6 Z" fill="#fff" stroke-width="1.1"/>
<path d="M998.5,445.6 L1014.4,453.9 L1017.3,447.0M1014.4,453.9 L1014.4,458.7M997.1,455.6 L1014.4,464.7" stroke-width="0.8"/>
<path d="M997.1,452.3 L1014.4,460.0 L1021.4,456.8" stroke-width="1.7"/>
<path d="M1014.4,460.0 L1014.4,464.7M1000.2,442.2 L1015.9,449.9" stroke-width="0.7" stroke="#555"/>
<path d="M1018.4,447.0 L1023.5,448.1M1018.7,453.9 L1023.5,453.2" stroke-width="0.9"/>
<ellipse cx="1018.9" cy="450.5" rx="1.4" ry="3.3" transform="rotate(-5 1018.9 450.5)" fill="#fff" stroke-width="1.1"/>
<ellipse cx="1022.8" cy="450.8" rx="1.3" ry="2.7" transform="rotate(-5 1022.8 450.8)" fill="#222" stroke-width="1.0"/>
<path d="M1119.1,399.3 L1128.9,399.3 L1128.9,415.4 L1119.1,415.4 Z" fill="#fff" stroke-width="1.0"/>
<path d="M1128.9,398.4 L1132.1,398.2 L1132.1,416.3 L1128.9,416.1 Z" fill="#fff" stroke-width="0.9"/>
<path d="M1120.0,407.5 L1130.9,407.5" stroke-width="1.5"/>
<path d="M1126.7,401.8 L1130.4,401.0" stroke-width="1.5"/>
<path d="M1132.1,397.3 L1136.8,397.3 L1136.8,417.0 L1132.1,417.0 Z" fill="#111" stroke="#111"/>
<path d="M1136.8,401.1 Q1140.4,407.2 1136.8,413.4 Z" fill="#444" stroke="#333" stroke-width="0.6"/>
<path d="M1088.4,486.7 L1099.3,480.4 L1119.6,491.8 L1119.9,502.4 L1108.2,508.9 L1088.4,497.5 Z" fill="#fff" stroke-width="1.2"/>
<path d="M1088.7,490.5 L1108.2,501.6 L1119.6,495.3 L1119.6,498.7 L1108.2,505.1 L1088.7,493.8 Z" fill="#999" stroke="#555" stroke-width="0.6"/>
<path d="M1090.6,487.7 L1099.5,482.6 L1117.5,492.6 L1108.5,497.8 Z" stroke-width="0.9"/>
<path d="M1092.5,487.9 L1099.7,483.8 L1115.4,492.7 L1108.3,496.7 Z" stroke-width="0.7" stroke="#555"/>
<path d="M1096.3,487.5 L1101.4,485.6 L1115.3,493.6 L1110.4,496.5 Z" fill="#555" stroke="#333" stroke-width="0.6"/>
<path d="M1108.2,501.6 L1108.2,508.9" stroke-width="0.8"/>
<ellipse cx="1115.3" cy="509.5" rx="1.9" ry="2.3" transform="rotate(30 1115.3 509.5)" fill="#333" stroke-width="0.9"/>
<ellipse cx="1114.5" cy="508.9" rx="1.6" ry="2.2" transform="rotate(30 1114.5 508.9)" fill="#ddd" stroke-width="0.8"/>
<path d="M995.1,537.3 L999.6,537.3 L999.6,558.6 L995.1,558.6 Z" fill="#fff" stroke-width="1.0"/>
<path d="M995.1,540.1 C994.9,540.6 994.4,541.8 994.2,543.2 C994.0,544.5 994.1,546.5 994.1,548.2 C994.1,549.9 994.1,552.0 994.3,553.3 C994.5,554.5 995.0,555.4 995.1,555.8" stroke-width="1.0"/>
<path d="M999.6,537.1 L1005.7,537.1 L1005.7,558.8 L999.6,558.8 Z" fill="#0a0a0a" stroke="#0a0a0a"/>
<path d="M1005.7,539.4 L1011.5,539.4 L1011.5,556.3 L1005.7,556.3 Z" fill="#fff" stroke="#444" stroke-width="0.9"/>
<path d="M997.6,547.9 L1000.2,547.9M1005.7,548.1 L1011.8,548.1" stroke-width="1.2"/>
</g>
<text x="303.7" y="750.7" font-family="Liberation Sans, sans-serif" font-weight="bold" font-size="16.2" fill="#0a0a0a" stroke="#0a0a0a" stroke-width="0.55" stroke-linejoin="round" textLength="38.2" lengthAdjust="spacingAndGlyphs">Genie</text>
<text x="304.7" y="755.0" font-family="Liberation Sans, sans-serif" font-weight="bold" font-size="2.4" fill="#555" stroke="none" textLength="22.4" lengthAdjust="spacingAndGlyphs">A TEREX BRAND</text>
<text x="342.3" y="750.6" font-family="Liberation Sans, sans-serif" font-size="1.8" fill="#333" stroke="none">®</text>
<text x="879.8" y="750.7" font-family="Liberation Sans, sans-serif" font-weight="bold" font-size="16.2" fill="#0a0a0a" stroke="#0a0a0a" stroke-width="0.55" stroke-linejoin="round" textLength="38.2" lengthAdjust="spacingAndGlyphs">Genie</text>
<text x="880.8" y="755.0" font-family="Liberation Sans, sans-serif" font-weight="bold" font-size="2.4" fill="#555" stroke="none" textLength="22.4" lengthAdjust="spacingAndGlyphs">A TEREX BRAND</text>
<text x="918.4" y="750.6" font-family="Liberation Sans, sans-serif" font-size="1.8" fill="#333" stroke="none">®</text>
<!--/ART-->
</svg>
</div>
</body>
</html>
